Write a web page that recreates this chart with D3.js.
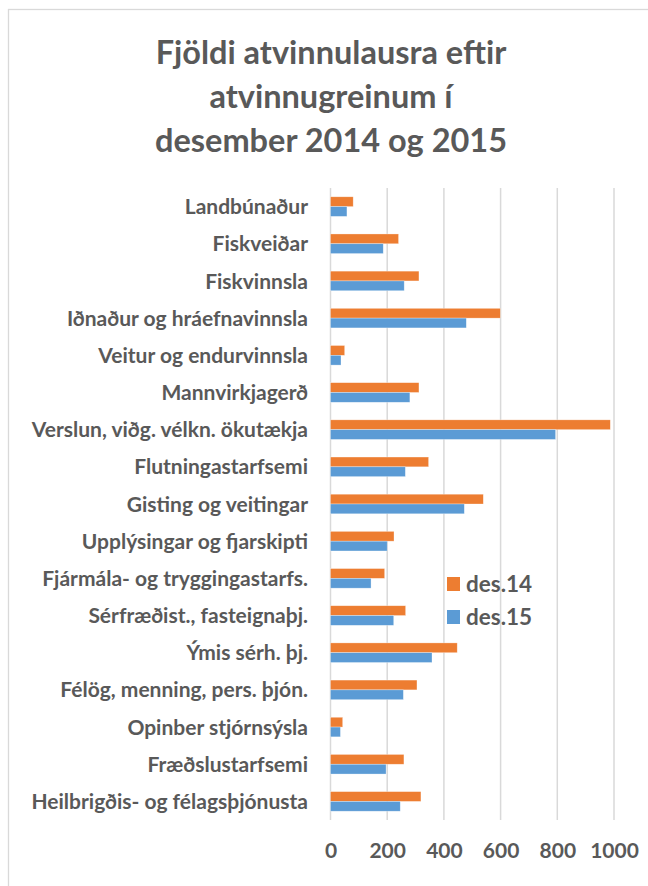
<!DOCTYPE html>
<html>
<head>
<meta charset="utf-8">
<script src="https://cdn.jsdelivr.net/npm/d3@7"></script>
<style>
  html, body { margin: 0; padding: 0; background: #ffffff; }
  svg { display: block; }
  text { font-family: Lato, "Open Sans", sans-serif; font-weight: bold; fill: #595959; }
</style>
</head>
<body>
<svg id="chart" width="648" height="886"></svg>
<script>
const titleLines = ["Fjöldi atvinnulausra eftir", "atvinnugreinum í", "desember 2014 og 2015"];
const categories = [
  "Landbúnaður", "Fiskveiðar", "Fiskvinnsla", "Iðnaður og hráefnavinnsla",
  "Veitur og endurvinnsla", "Mannvirkjagerð", "Verslun, viðg. vélkn. ökutækja",
  "Flutningastarfsemi", "Gisting og veitingar", "Upplýsingar og fjarskipti",
  "Fjármála- og tryggingastarfs.", "Sérfræðist., fasteignaþj.", "Ýmis sérh. þj.",
  "Félög, menning, pers. þjón.", "Opinber stjórnsýsla", "Fræðslustarfsemi",
  "Heilbrigðis- og félagsþjónusta"
];
const seriesNames = ["des.14", "des.15"];
const des14 = [80, 240, 312, 599, 50, 312, 987, 346, 539, 224, 191, 265, 447, 305, 43, 259, 319];
const des15 = [58, 186, 260, 479, 37, 280, 794, 264, 472, 200, 143, 223, 358, 257, 35, 196, 246];
const tickValues = [0, 200, 400, 600, 800, 1000];
const colors = ["#ED7D31", "#5B9BD5"];

const svg = d3.select("#chart");

// outer chart border (extends past the visible window on right/bottom)
svg.append("rect")
  .attr("x", 8.5).attr("y", 9.5)
  .attr("width", 700).attr("height", 900)
  .attr("fill", "#ffffff")
  .attr("stroke", "#d9d9d9").attr("stroke-width", 1.3);

// title
svg.append("g").selectAll("text")
  .data(titleLines).join("text")
  .attr("x", 331)
  .attr("y", (d, i) => 64 + i * 44)
  .attr("text-anchor", "middle")
  .style("font-size", "32.5px")
  .text(d => d);

const plot = { left: 330.5, right: 614, top: 188, bottom: 820 };

const x = d3.scaleLinear().domain([0, 1000]).range([plot.left, plot.right]);
const y = d3.scaleBand().domain(categories).range([plot.top, plot.bottom])
  .paddingInner(0.473).paddingOuter(0.2365);
const ySub = d3.scaleBand().domain(seriesNames).range([0, y.bandwidth()]);

// gridlines
svg.append("g").selectAll("line")
  .data(tickValues).join("line")
  .attr("x1", d => x(d)).attr("x2", d => x(d))
  .attr("y1", plot.top).attr("y2", plot.bottom)
  .attr("stroke", "#d9d9d9").attr("stroke-width", 1.5);

// bars
const series = [des14, des15];
const groups = svg.append("g").selectAll("g")
  .data(series).join("g")
  .attr("fill", (d, i) => colors[i]);
groups.each(function(vals, si) {
  d3.select(this).selectAll("rect")
    .data(vals.map((v, i) => ({ v, cat: categories[i] })))
    .join("rect")
    .attr("x", x(0))
    .attr("y", d => y(d.cat) + ySub(seriesNames[si]))
    .attr("width", d => x(d.v) - x(0))
    .attr("height", ySub.bandwidth())
    .attr("stroke", "rgba(255,255,255,0.5)").attr("stroke-width", 0.6);
});

// category labels
svg.append("g").selectAll("text")
  .data(categories).join("text")
  .attr("x", 308)
  .attr("y", d => y(d) + y.bandwidth() / 2)
  .attr("dy", "0.36em")
  .attr("text-anchor", "end")
  .style("font-size", "21px")
  .text(d => d);

// x axis
const xAxis = d3.axisBottom(x).tickValues(tickValues).tickSize(0).tickPadding(0).tickFormat(d3.format("d"));
const ax = svg.append("g").attr("transform", `translate(0, 858)`).call(xAxis);
ax.select(".domain").remove();
ax.selectAll("text")
  .attr("y", 0).attr("dy", 0)
  .style("font-size", "21px")
  .style("font-family", "Lato, sans-serif")
  .attr("fill", "#595959");

// legend
const legend = svg.append("g");
const lg = legend.selectAll("g").data(seriesNames).join("g")
  .attr("transform", (d, i) => `translate(447, ${577 + i * 33})`);
lg.append("rect").attr("width", 13).attr("height", 14).attr("fill", (d, i) => colors[i]);
lg.append("text").attr("x", 19).attr("y", 14.5).style("font-size", "22.5px").text(d => d);
</script>
</body>
</html>
